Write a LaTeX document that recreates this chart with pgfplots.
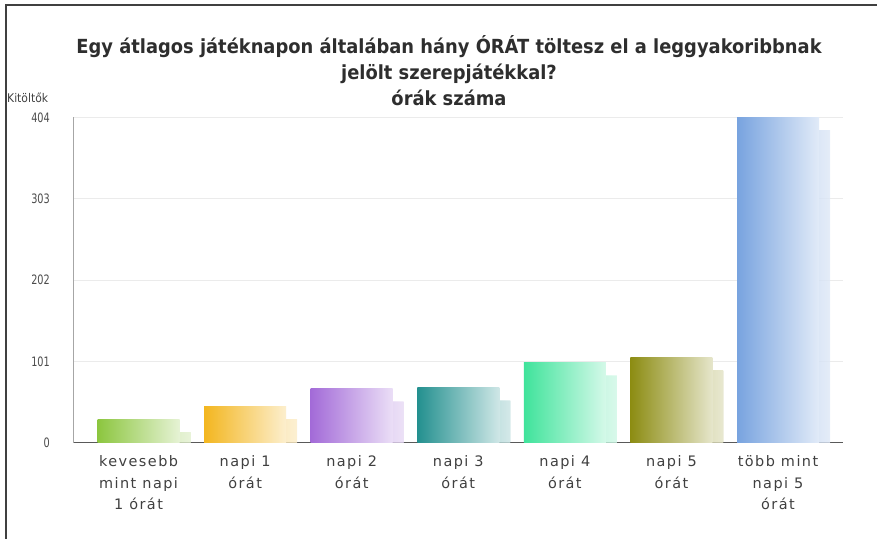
\documentclass[border=0pt]{standalone}
\usepackage{fontspec}
\setmainfont{DejaVu Sans}
\newfontfamily\titlefont[FakeStretch=0.92]{DejaVu Sans}
\newfontfamily\labfont[LetterSpace=10]{DejaVu Sans}
\newfontfamily\numfont[FakeStretch=0.75]{DejaVu Sans}
\newfontfamily\ylabfont[FakeStretch=0.9]{DejaVu Sans}
\usepackage{pgfplots}
\pgfplotsset{compat=1.18}
\definecolor{c1}{HTML}{8CC63F}
\definecolor{c2}{HTML}{F3B61F}
\definecolor{c3}{HTML}{A36BD8}
\definecolor{c4}{HTML}{23908F}
\definecolor{c5}{HTML}{3FE39B}
\definecolor{c6}{HTML}{8C8C12}
\definecolor{c7}{HTML}{78A3DF}
\pgfplotsset{mybar/.style={draw=none, left color=#1, right color=#1!22!white,
  preaction={fill=#1!30!white, opacity=0.55, transform canvas={xshift=11bp,yshift=-13bp}}}}
\begin{document}
\begin{tikzpicture}
\useasboundingbox (0,0) rectangle (877bp,539bp);
\fill[white] (0,0) rectangle (877bp,539bp);
\draw[line width=2bp, black!75] (6bp,0) -- (6bp,534bp) -- (877bp,534bp);
\node[font=\titlefont\bfseries\fontsize{19.5}{26}\selectfont, text=black!82, align=center] at (449bp,468bp)
  {Egy átlagos játéknapon általában hány ÓRÁT töltesz el a leggyakoribbnak\\jelölt szerepjátékkal?\\órák száma};
\node[anchor=west, font=\ylabfont\fontsize{12}{14}\selectfont, text=black!75, inner sep=0pt] at (7bp,441bp) {Kitöltők};
\begin{axis}[
  at={(73bp,96.3bp)}, anchor=south west,
  width=770bp, height=325.4bp, scale only axis,
  xmin=-0.615, xmax=6.61, ymin=0, ymax=404,
  ybar, bar width=82bp,
  every axis plot post/.append style={/pgf/bar shift=0pt},
  axis x line*=bottom, axis y line*=left,
  axis line style={-},
  x axis line style={black!65, line width=1bp},
  y axis line style={black!35, line width=0.8bp},
  major tick length=0pt,
  ytick={0,101,202,303,404},
  xtick={0,1,2,3,4,5,6},
  xticklabels={{kevesebb\\mint napi\\1 órát},{napi 1\\órát},{napi 2\\órát},{napi 3\\órát},{napi 4\\órát},{napi 5\\órát},{több mint\\napi 5\\órát}},
  ymajorgrids, grid style={black!8, line width=0.8bp},
  /pgf/number format/assume math mode=true,
  yticklabel style={font=\numfont\fontsize{13}{15}\selectfont, text=black!70, inner sep=0pt, xshift=-23bp},
  xticklabel style={font=\labfont\fontsize{14.5}{21.5}\selectfont, text=black!75, align=center, inner sep=0pt, anchor=north, yshift=-13bp},
]
\addplot[mybar=c1] coordinates {(0,29)};
\addplot[mybar=c2] coordinates {(1,45)};
\addplot[mybar=c3] coordinates {(2,67)};
\addplot[mybar=c4] coordinates {(3,68)};
\addplot[mybar=c5] coordinates {(4,99)};
\addplot[mybar=c6] coordinates {(5,106)};
\addplot[mybar=c7] coordinates {(6,404)};
\end{axis}
\end{tikzpicture}
\end{document}
